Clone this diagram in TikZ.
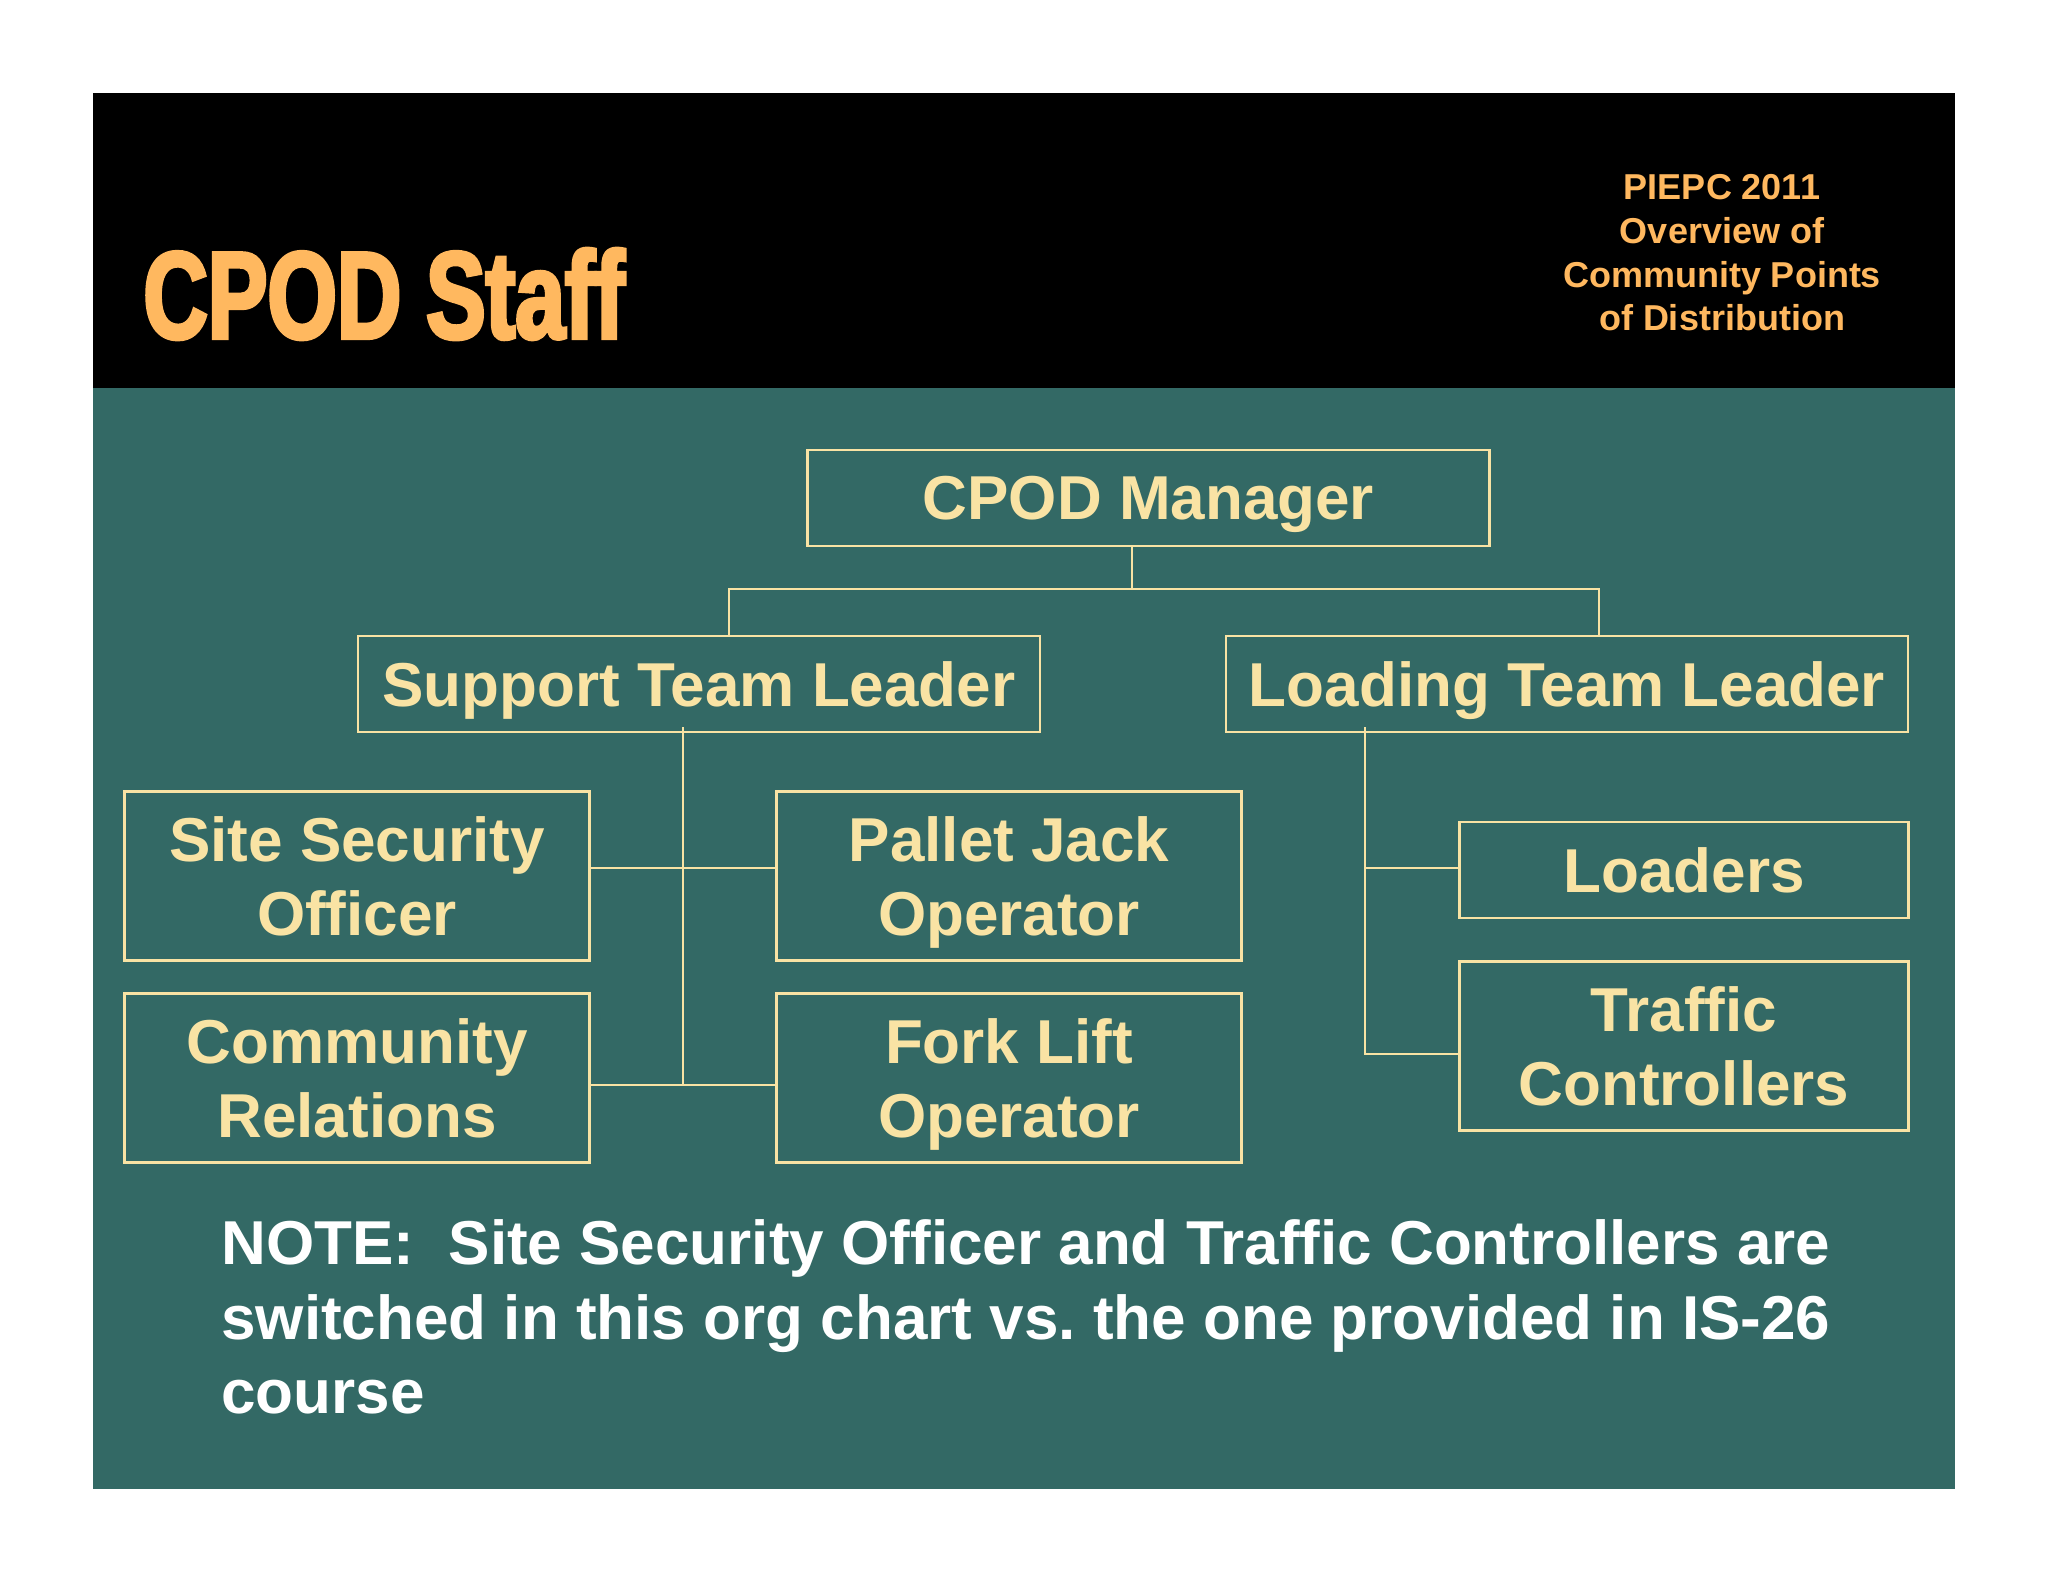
\documentclass[tikz,border=0pt]{standalone}
\usepackage{fontspec}
\setmainfont[Ligatures=NoCommon]{Liberation Sans}
\newfontfamily\titlefont[FakeStretch=0.72,FakeBold=3]{Liberation Sans Bold}
\definecolor{panelteal}{HTML}{336965}
\definecolor{boxcream}{HTML}{F9E3A4}
\definecolor{titleorange}{HTML}{FFB85F}
\tikzset{
  orgbox/.style={draw=boxcream,line width=1.25pt,text=boxcream,font=\fontsize{31}{37.4}\selectfont\bfseries,align=center,inner sep=0pt,text depth=-1pt},
  wide/.style={orgbox,minimum width=341pt,minimum height=48pt},
  dbl/.style={orgbox,minimum width=232.5pt,minimum height=84.5pt},
  small/.style={orgbox,minimum width=224.5pt},
  link/.style={draw=boxcream,line width=1.25pt}
}
\begin{document}
\begin{tikzpicture}[x=0.5pt,y=-0.5pt]
\useasboundingbox (0,0) rectangle (2048,1582);
\fill[panelteal] (93,93) rectangle (1955,1489);
\fill[black] (93,93) rectangle (1955,388);
\node[text=titleorange,font=\fontsize{62}{62}\titlefont] (title) at (384,294) {CPOD Staff};
\node[text=titleorange,font=\fontsize{18}{21.8}\selectfont\bfseries,align=center] (piepc) at (1722,253) {PIEPC 2011\\Overview of\\Community Points\\of Distribution};
\node[wide] (manager) at (1148.5,498) {CPOD Manager};
\node[wide] (support) at (699,684) {Support Team Leader};
\node[wide] (loading) at (1567,684) {Loading Team Leader};
\node[dbl] (site) at (357,876) {Site Security\\Officer};
\node[dbl] (pallet) at (1009,876) {Pallet Jack\\Operator};
\node[dbl] (community) at (357,1078) {Community\\Relations};
\node[dbl] (fork) at (1009,1078) {Fork Lift\\Operator};
\node[small,minimum height=48pt] (loaders) at (1684,870) {Loaders};
\node[small,minimum height=84.5pt] (traffic) at (1684,1046) {Traffic\\Controllers};
\node[anchor=west,text=white,font=\fontsize{31}{37.4}\selectfont\bfseries,align=left,inner sep=0pt] (note) at (221,1317) {NOTE:\ \ Site Security Officer and Traffic Controllers are\\switched in this org chart vs.\ the one provided in IS-26\\course};
\coordinate (topjoin) at (1132,589);
\coordinate (supportdrop) at (729,589);
\coordinate (loadingdrop) at (1599,589);
\coordinate (supportup) at (683,727);
\coordinate (supportmid) at (683,868);
\coordinate (supportlow) at (683,1085);
\coordinate (loadingup) at (1365,727);
\coordinate (loadingmid) at (1365,868);
\coordinate (loadinglow) at (1365,1054);
\draw[link] (manager.south -| topjoin) -- (topjoin);
\draw[link] (support.north -| supportdrop) -- (supportdrop) -- (loadingdrop) -- (loading.north -| loadingdrop);
\draw[link] (supportup) -- (supportlow);
\draw[link] (site.east |- supportmid) -- (pallet.west |- supportmid);
\draw[link] (community.east |- supportlow) -- (fork.west |- supportlow);
\draw[link] (loadingup) -- (loadinglow) -- (traffic.west |- loadinglow);
\draw[link] (loadingmid) -- (loaders.west |- loadingmid);
\end{tikzpicture}
\end{document}
